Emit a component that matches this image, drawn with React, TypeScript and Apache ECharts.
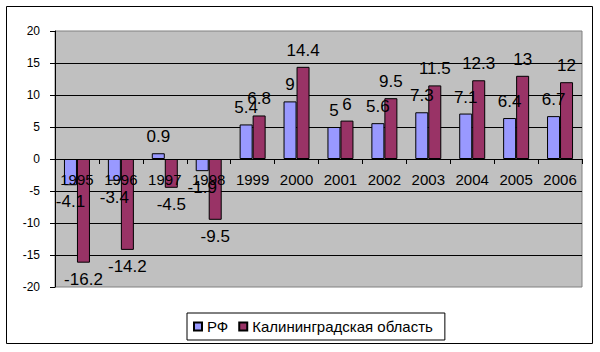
import React, { useEffect, useRef } from "react";
import * as echarts from "echarts";

const categories = ["1995", "1996", "1997", "1998", "1999", "2000", "2001", "2002", "2003", "2004", "2005", "2006"];
const rfValues = [-4.1, -3.4, 0.9, -1.9, 5.4, 9, 5, 5.6, 7.3, 7.1, 6.4, 6.7];
const kalValues = [-16.2, -14.2, -4.5, -9.5, 6.8, 14.4, 6, 9.5, 11.5, 12.3, 13, 12];
const seriesNames = ["РФ", "Калининградская область"];
const seriesColors = ["#9999FF", "#993366"];

const FONT = "'Liberation Sans', Arial, sans-serif";

function toItems(values: number[]) {
  return values.map((v) => ({
    value: v,
    label: { position: v < 0 ? "bottom" : "top" },
  }));
}

export default function App() {
  const ref = useRef<HTMLDivElement>(null);
  useEffect(() => {
    if (!ref.current) return;
    const chart = echarts.init(ref.current, undefined, { renderer: "svg" });
    const labelStyle = {
      show: true,
      fontSize: 17,
      fontFamily: FONT,
      color: "#000",
      distance: 8,
    };
    chart.setOption({
      animation: false,
      textStyle: { fontFamily: FONT },
      graphic: [
        {
          type: "rect",
          shape: { x: 6.5, y: 6.5, width: 586, height: 337 },
          style: { fill: "none", stroke: "#000", lineWidth: 1 },
          silent: true,
        },
      ],
      grid: {
        left: 55,
        top: 31,
        width: 527,
        height: 256,
        show: true,
        backgroundColor: "#C0C0C0",
        borderColor: "#808080",
        borderWidth: 1,
      },
      legend: {
        left: 187,
        top: 313,
        padding: [6, 12, 6, 6],
        borderColor: "#000",
        borderWidth: 1,
        itemWidth: 8,
        itemHeight: 8,
        itemGap: 10,
        icon: "rect",
        textStyle: { fontSize: 15, fontFamily: FONT, color: "#000" },
        data: seriesNames,
      },
      xAxis: {
        type: "category",
        data: categories,
        position: "bottom",
        offset: -128,
        z: 10,
        axisLine: { show: true, onZero: false, lineStyle: { color: "#000", width: 1 } },
        axisTick: { show: true, length: 5, inside: false, lineStyle: { color: "#000" } },
        axisLabel: { fontSize: 15, fontFamily: FONT, color: "#000", margin: 13, interval: 0 },
        splitLine: { show: false },
      },
      yAxis: {
        type: "value",
        min: -20,
        max: 20,
        interval: 5,
        axisLine: { show: true, lineStyle: { color: "#000", width: 1 } },
        axisTick: { show: true, length: 5, lineStyle: { color: "#000" } },
        axisLabel: { fontSize: 12, fontFamily: FONT, color: "#000", margin: 15 },
        splitLine: { show: true, showMinLine: false, showMaxLine: false, lineStyle: { color: "#000", width: 1 } },
      },
      series: [
        {
          name: seriesNames[0],
          type: "bar",
          barWidth: 13,
          barGap: "0%",
          data: toItems(rfValues),
          itemStyle: { color: seriesColors[0], borderColor: "#000", borderWidth: 1 },
          label: labelStyle,
        },
        {
          name: seriesNames[1],
          type: "bar",
          barWidth: 13,
          barGap: "0%",
          data: toItems(kalValues),
          itemStyle: { color: seriesColors[1], borderColor: "#000", borderWidth: 1 },
          label: labelStyle,
        },
      ],
    });
    return () => chart.dispose();
  }, []);
  return (
    <div
      ref={ref}
      style={{ position: "absolute", left: 0, top: 0, width: 600, height: 352, background: "#fff" }}
    />
  );
}
